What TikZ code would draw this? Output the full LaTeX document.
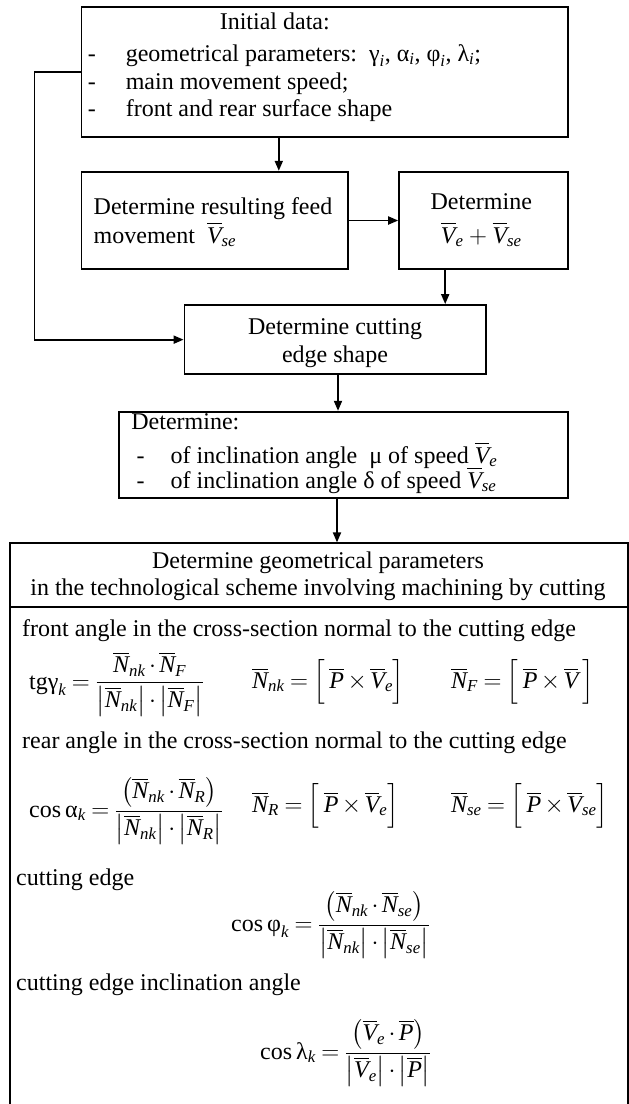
\documentclass[tikz,border=0pt]{standalone}
\usepackage{amsmath}
\usepackage{fontspec}
\setmainfont{Liberation Serif}
\usetikzlibrary{arrows.meta,calc}
\newcommand{\ti}[1]{\text{\itshape #1}}
\newcommand{\vb}[1]{\overline{\text{\itshape #1}}}
\newcommand{\eqsp}{\thickmuskip=4mu plus 2mu\medmuskip=2.5mu}
\begin{document}
\begin{tikzpicture}[x=1pt,y=-1pt,
  box/.style={draw,line width=1.8pt,inner sep=0pt,fill=none},
  lbl/.style={inner sep=0pt,anchor=base west},
  ctr/.style={inner sep=0pt,anchor=base},
  eq/.style={inner sep=0pt,anchor=west,execute at begin node=\eqsp},
  arr/.style={line width=1.8pt,-{Triangle[length=10pt,width=8pt]}},
  font=\fontsize{24}{28}\selectfont]
\useasboundingbox (0,0) rectangle (629,1104);
\fill[white] (0,0) rectangle (629,1104);
% boxes
\node[box,minimum width=486.2pt,minimum height=129.4pt] (b1) at (324.5,72) {};
\node[box,minimum width=266.8pt,minimum height=97.6pt] (b2) at (214.8,220.5) {};
\node[box,minimum width=168.5pt,minimum height=97.6pt] (b3) at (483.35,220.5) {};
\node[box,minimum width=301.7pt,minimum height=69.3pt] (b4) at (335.35,339.65) {};
\node[box,minimum width=448.5pt,minimum height=86.6pt] (b5) at (343.35,455) {};
\node[box,minimum width=618pt,minimum height=600pt] (b6) at (319,843.3) {};
% box 1 text
\node[ctr] (t1) at (274.8,29.5) {Initial data:};
\node[lbl] (d11) at (87.6,61) {-};
\node[lbl] (l11) at (125.6,61) {geometrical parameters:\ \ $\text{γ}_{\ti{i}}$, $\text{α}_{\ti{i}}$, $\text{φ}_{\ti{i}}$, $\text{λ}_{\ti{i}}$;};
\node[lbl] (d12) at (87.6,89.5) {-};
\node[lbl] (l12) at (125.6,89.5) {main movement speed;};
\node[lbl] (d13) at (87.6,116) {-};
\node[lbl] (l13) at (125.6,116) {front and rear surface shape};
% box 2 text
\node[lbl] (t21) at (93.5,214.5) {Determine resulting feed};
\node[lbl] (t22) at (93.5,243) {movement\ \ $\vb{V}_{\ti{se}}$};
% box 3 text
\node[ctr] (t31) at (481.3,209.5) {Determine};
\node[ctr] (t32) at (481.3,243) {$\vb{V}_{\ti{e}} + \vb{V}_{\ti{se}}$};
% box 4 text
\node[ctr] (t41) at (335,334.5) {Determine cutting};
\node[ctr] (t42) at (335,362) {edge shape};
% box 5 text
\node[lbl] (t51) at (131.2,429.5) {Determine:};
\node[lbl] (d51) at (136.5,463) {-};
\node[lbl] (t52) at (170.5,463) {of inclination angle\ \ μ of speed $\vb{V}_{\ti{e}}$};
\node[lbl] (d52) at (136.5,488) {-};
\node[lbl] (t53) at (170.5,488) {of inclination angle δ of speed $\vb{V}_{\ti{se}}$};
% box 6 title
\node[ctr] (t61) at (318,568) {Determine geometrical parameters};
\node[ctr] (t62) at (318,595) {in the technological scheme involving machining by cutting};
\coordinate (sep) at (0,607);
\draw[line width=1.8pt] (b6.west |- sep) -- (b6.east |- sep);
% box 6 body
\node[lbl] (r1) at (22,636) {front angle in the cross-section normal to the cutting edge};
\node[eq] (f1) at (29,684) {$\text{tgγ}_{\ti{k}} = \dfrac{\vb{N}_{\ti{nk}}\cdot\vb{N}_{\ti{F}}}{\left|\vb{N}_{\ti{nk}}\right|\cdot\left|\vb{N}_{\ti{F}}\right|}$};
\node[eq] (f2) at (252,682) {$\vb{N}_{\ti{nk}} = \Bigl[\,\vb{P}\times\vb{V}_{\ti{e}}\Bigr]$};
\node[eq] (f3) at (451,682) {$\vb{N}_{\ti{F}} = \Bigl[\,\vb{P}\times\vb{V}\,\Bigr]$};
\node[lbl] (r2) at (22,748) {rear angle in the cross-section normal to the cutting edge};
\node[eq] (f4) at (29,811) {$\text{cos\,α}_{\ti{k}} = \dfrac{\left(\vb{N}_{\ti{nk}}\cdot\vb{N}_{\ti{R}}\right)}{\left|\vb{N}_{\ti{nk}}\right|\cdot\left|\vb{N}_{\ti{R}}\right|}$};
\node[eq] (f5) at (252,806) {$\vb{N}_{\ti{R}} = \Bigl[\,\vb{P}\times\vb{V}_{\ti{e}}\Bigr]$};
\node[eq] (f6) at (451,806) {$\vb{N}_{\ti{se}} = \Bigl[\,\vb{P}\times\vb{V}_{\ti{se}}\Bigr]$};
\node[lbl] (r3) at (16,885) {cutting edge};
\node[eq] (f7) at (231,925) {$\text{cos\,φ}_{\ti{k}} = \dfrac{\left(\vb{N}_{\ti{nk}}\cdot\vb{N}_{\ti{se}}\right)}{\left|\vb{N}_{\ti{nk}}\right|\cdot\left|\vb{N}_{\ti{se}}\right|}$};
\node[lbl] (r4) at (16,990) {cutting edge inclination angle};
\node[eq] (f8) at (260,1053) {$\text{cos\,λ}_{\ti{k}} = \dfrac{\left(\vb{V}_{\ti{e}}\cdot\vb{P}\right)}{\left|\vb{V}_{\ti{e}}\right|\cdot\left|\vb{P}\right|}$};
% connectors
\coordinate (x12) at (278.8,0);
\coordinate (x34) at (445.2,0);
\coordinate (x45) at (338,0);
\coordinate (x56) at (337,0);
\draw[arr] (b1.south -| x12) -- (b2.north -| x12);
\draw[arr] (b2.east) -- (b3.west);
\draw[arr] (b3.south -| x34) -- (b4.north -| x34);
\draw[arr] (b1.west) -- ++(-46,0) |- (b4.west);
\draw[arr] (b4.south -| x45) -- (b5.north -| x45);
\draw[arr] (b5.south -| x56) -- (b6.north -| x56);
\end{tikzpicture}
\end{document}
